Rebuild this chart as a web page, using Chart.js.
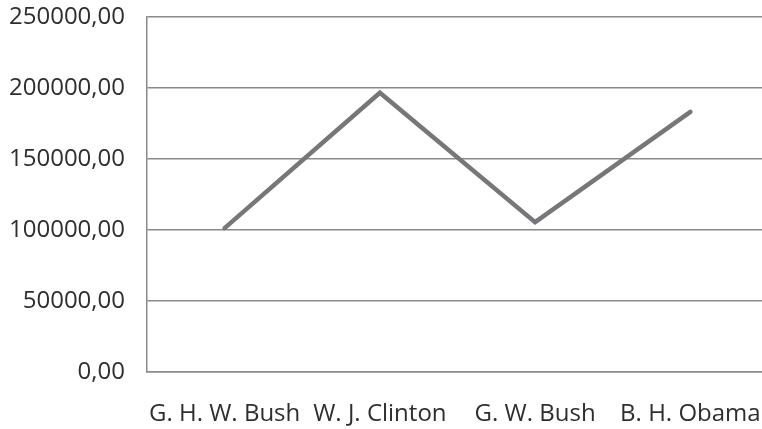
<!DOCTYPE html>
<html>
<head>
<meta charset="utf-8">
<script src="https://cdn.jsdelivr.net/npm/chart.js@4.4.1/dist/chart.umd.min.js"></script>
<style>
  html, body { margin: 0; padding: 0; background: #fff; overflow: hidden; width: 762px; height: 429px; }
  #wrap { width: 768px; height: 429px; }
</style>
</head>
<body>
<div id="wrap"><canvas id="myChart" width="768" height="429"></canvas></div>
<script>
const presidents = ["G. H. W. Bush", "W. J. Clinton", "G. W. Bush", "B. H. Obama"];
const values = [101300, 196600, 105500, 183200];
const yTicks = [0, 50000, 100000, 150000, 200000, 250000];

const textColor = "#2e2e2e";
const lineGray = "#77777a";
const gridGray = "#8a8a8a";

const chart = new Chart(document.getElementById("myChart"), {
  type: "line",
  data: {
    labels: presidents,
    datasets: [
      {
        data: values,
        borderColor: lineGray,
        borderWidth: 4.5,
        borderCapStyle: "round",
        borderJoinStyle: "miter",
        pointRadius: 0,
        fill: false,
        tension: 0,
      },
    ],
  },
  options: {
    responsive: false,
    animation: false,
    layout: { padding: { top: 17, right: 0, left: 0, bottom: 0 } },
    plugins: {
      legend: { display: false },
      tooltip: { enabled: false },
    },
    scales: {
      x: {
        offset: true,
        grid: { display: false, drawTicks: false },
        border: { display: true, color: gridGray, width: 1.5 },
        ticks: {
          color: textColor,
          padding: 28,
          maxRotation: 0,
          autoSkip: false,
          font: { family: "Open Sans", size: 24 },
        },
        afterFit: (scale) => {
          scale.height = 57;
          scale.paddingLeft = 0;
          scale.paddingRight = 0;
        },
      },
      y: {
        min: 0,
        max: 250000,
        afterBuildTicks: (scale) => {
          scale.ticks = yTicks.map((v) => ({ value: v }));
        },
        grid: { color: gridGray, lineWidth: 1.5, drawTicks: false },
        border: { display: true, color: gridGray, width: 1.5 },
        ticks: {
          color: textColor,
          padding: 22,
          font: { family: "Open Sans", size: 24 },
          callback: (v) => v.toFixed(2).replace(".", ","),
        },
        afterFit: (scale) => {
          scale.width = 147;
          scale.paddingTop = 0;
          scale.paddingBottom = 0;
        },
      },
    },
  },
});
</script>
</body>
</html>
